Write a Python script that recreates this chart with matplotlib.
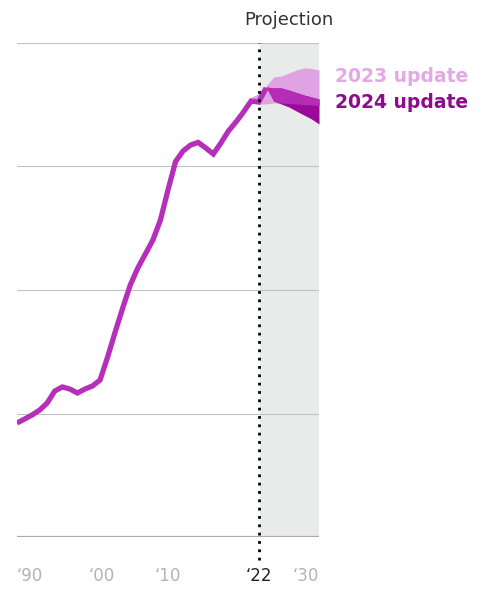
import matplotlib
matplotlib.use("Agg")
import matplotlib.pyplot as plt
import numpy as np

# ---- data ----
years = list(range(1990, 2024))
values = [9.23, 9.55, 9.88, 10.28, 10.85, 11.82, 12.15, 11.98, 11.66, 11.98,
          12.23, 12.71, 14.57, 16.60, 18.54, 20.40, 21.78, 22.91, 24.05, 25.67,
          28.10, 30.40, 31.26, 31.74, 31.95, 31.50, 31.01, 31.90, 32.87, 33.60,
          34.41, 35.30, 35.22, 36.36]

# 2023 update projection range
p23_years = [2021, 2022, 2023, 2024, 2025, 2026, 2027, 2028, 2029, 2030]
p23_high = [35.60, 35.90, 36.52, 37.25, 37.33, 37.57, 37.81, 37.98, 37.94, 37.81]
p23_low = [35.14, 35.06, 35.06, 35.14, 35.14, 35.10, 35.06, 35.02, 34.98, 34.94]

# 2024 update projection range
p24_years = [2023, 2024, 2025, 2026, 2027, 2028, 2029, 2030]
p24_high = [36.44, 36.36, 36.36, 36.19, 35.99, 35.79, 35.63, 35.47]
p24_low = [36.44, 35.30, 35.06, 34.82, 34.49, 34.17, 33.85, 33.44]

tick_labels = ["\u201890", "\u201800", "\u201810", "\u201822", "\u201830"]
tick_pos = [1990, 2001.2, 2010, 2022, 2030]
tick_ha = ["left", "center", "center", "center", "right"]
tick_colors = ["#b3b3b3", "#b3b3b3", "#b3b3b3", "#222222", "#b3b3b3"]

plt.rcParams['font.family'] = ['DejaVu Sans']

W, H = 490, 589
fig = plt.figure(figsize=(W / 100, H / 100), dpi=100)
ax = fig.add_axes([17 / W, 52 / H, (319 - 17) / W, (537 - 43) / H])
ax.set_xlim(1990, 2030)
ax.set_ylim(0, 40)
ax.axis('off')

LIGHT = "#dfa3e3"
MED = "#b52db7"
DARK = "#990a98"
LINE = "#b62fba"

# projection shading
ax.axvspan(2022.2, 2030, ymin=0, ymax=1, color="#e9ebea", lw=0, zorder=0)

# gridlines
for gy in [10, 20, 30, 40]:
    ax.axhline(gy, color="#c2c2c2", lw=0.8, zorder=1)
ax.axhline(0, color="#ababab", lw=2.3, zorder=1)

# 2023 band
ax.fill_between(p23_years, p23_low, p23_high, color=LIGHT, lw=0, zorder=2)
# 2024 band: dark where alone, medium where overlapping 2023 band
p23_low_i = np.interp(p24_years, p23_years, p23_low)
p23_high_i = np.interp(p24_years, p23_years, p23_high)
ax.fill_between(p24_years, p24_low, p24_high, color=DARK, lw=0, zorder=3)
ov_low = np.maximum(np.array(p24_low), p23_low_i)
ov_high = np.minimum(np.array(p24_high), p23_high_i)
ax.fill_between(p24_years, ov_low, ov_high, where=ov_high >= ov_low,
                color=MED, lw=0, zorder=4, interpolate=True)

# history line
ax.plot(years, values, color=LINE, lw=3.8, solid_joinstyle='miter',
        solid_capstyle='butt', zorder=5)

# dotted projection divider
ax.plot([2022, 2022], [-1.9, 40], color="black", lw=2.0,
        linestyle=(0, (1, 2.0)), dash_capstyle='butt', clip_on=False, zorder=6)

# projection label
ax.text(2026, 40 + 23 / 12.35, "Projection", ha="center", va="center",
        fontsize=13, color="#333333")

# x tick labels
for p, lab, ha, c in zip(tick_pos, tick_labels, tick_ha, tick_colors):
    ax.text(p, -39 / 12.35, lab, ha=ha, va="center", fontsize=12,
            color=c, transform=ax.transData)

# legend labels
fig.text(335 / W, 1 - 77 / H, "2023 update", ha="left", va="center",
         fontsize=13.5, fontweight="bold", color="#e3a8e6")
fig.text(335 / W, 1 - 102 / H, "2024 update", ha="left", va="center",
         fontsize=13.5, fontweight="bold", color="#8e0b8e")

fig.savefig("out.png", dpi=100)
